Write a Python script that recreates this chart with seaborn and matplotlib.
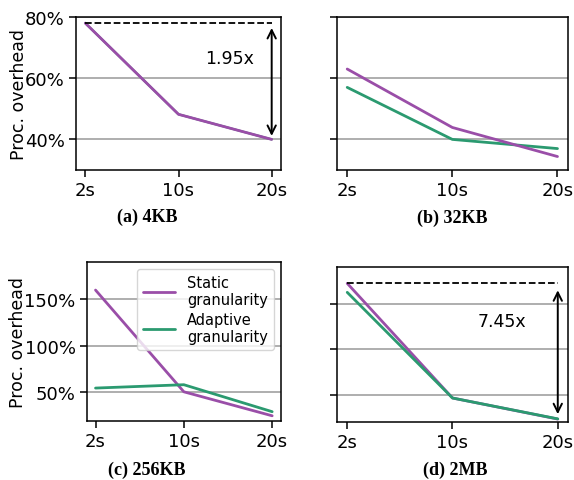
import matplotlib
matplotlib.use("Agg")
import matplotlib.pyplot as plt
import seaborn as sns
import pandas as pd

sns.set_style("ticks")
plt.rcParams['font.family'] = ['DejaVu Sans']
plt.rcParams['text.color'] = 'black'
plt.rcParams['axes.labelcolor'] = 'black'
plt.rcParams['xtick.color'] = 'black'
plt.rcParams['ytick.color'] = 'black'

intervals = ["2s", "10s", "20s"]
series_names = ["Static\ngranularity", "Adaptive\ngranularity"]
colors = ["#9a4ea8", "#2b9a70"]

static_4kb = [78.0, 48.2, 40.0]
adaptive_4kb = [78.0, 48.2, 40.0]
static_32kb = [63.0, 43.9, 34.4]
adaptive_32kb = [57.0, 40.0, 37.0]
static_256kb = [159.6, 50.6, 24.9]
adaptive_256kb = [54.6, 58.2, 29.3]
static_2mb = [172.8, 46.4, 23.2]
adaptive_2mb = [162.9, 46.4, 23.4]

captions = ["(a) 4KB", "(b) 32KB", "(c) 256KB", "(d) 2MB"]
ratio_labels = ["1.95x", None, None, "7.45x"]
yticks_small = [40, 60, 80]
yticks_big = [50, 100, 150]

fig = plt.figure(figsize=(5.74, 4.81), dpi=100)

def px_axes(l, r, t, b):
    W, H = 574.0, 481.0
    return fig.add_axes([l / W, (H - b) / H, (r - l) / W, (b - t) / H])

axes = [
    px_axes(76, 281, 18, 171),
    px_axes(336.7, 568, 18, 171),
    px_axes(86.7, 281, 262.7, 422.3),
    px_axes(336.7, 568.3, 268.3, 422.5),
]
data = [
    (static_4kb, adaptive_4kb),
    (static_32kb, adaptive_32kb),
    (static_256kb, adaptive_256kb),
    (static_2mb, adaptive_2mb),
]
ylims = [(30, 80), (30, 80), (19, 190), (20.5, 190.5)]
yticks = [yticks_small, yticks_small, yticks_big, yticks_big]
show_ylabels = [True, False, True, False]
# draw order: in (a) static on top, in (d) adaptive on top
orders = [[1, 0], [1, 0], [0, 1], [0, 1]]
ratio_text_pos = [(1.55, 66.5), None, None, (1.47, 131.0)]
shrinks = [(3.5, 2.5), None, None, (5, 3.5)]

for i, ax in enumerate(axes):
    st, ad = data[i]
    df = pd.DataFrame({
        "interval": intervals * 2,
        "value": st + ad,
        "series": [series_names[0]] * 3 + [series_names[1]] * 3,
    })
    for k in orders[i]:
        sub = df[df["series"] == series_names[k]]
        lw = 2 if not (i == 0 and k == 1) else 1.6
        sns.lineplot(data=sub, x="interval", y="value", color=colors[k], lw=lw,
                     ax=ax, sort=False, label=series_names[k], zorder=3 + (orders[i].index(k)))
    ax.set_xlim(-0.1, 2.1)
    ax.set_ylim(*ylims[i])
    ax.set_yticks(yticks[i])
    if show_ylabels[i]:
        ax.set_yticklabels([f"{v}%" for v in yticks[i]])
        ax.set_ylabel("Proc. overhead", fontsize=12.5, labelpad=-2)
    else:
        ax.set_yticklabels([])
        ax.set_ylabel("")
    ax.set_xlabel("")
    ax.yaxis.grid(True, color="#999999", lw=1.1)
    ax.set_axisbelow(True)
    ax.tick_params(axis="both", labelsize=13, length=5, width=1.1, pad=3.0, color="black")
    for s in ax.spines.values():
        s.set_visible(True)
        s.set_color("black")
        s.set_linewidth(1.1)
    if i == 2:
        h, l = ax.get_legend_handles_labels()
        order_idx = [l.index(series_names[0]), l.index(series_names[1])]
        ax.legend([h[j] for j in order_idx], [l[j] for j in order_idx],
                  loc="upper right", fontsize=10.5, frameon=True,
                  handlelength=2.2, borderpad=0.4, labelspacing=0.3,
                  handletextpad=0.8, borderaxespad=0.5)
    else:
        leg = ax.get_legend()
        if leg is not None:
            leg.remove()

    if ratio_labels[i] is not None:
        top = st[0]
        low = min(st)
        ax.plot([0, 2], [top, top], ls="--", color="black", lw=1.3, zorder=6)
        sa, sb = shrinks[i]
        ax.annotate("", xy=(2, low), xytext=(2, top),
                    arrowprops=dict(arrowstyle="<->", color="black", lw=1.4,
                                    shrinkA=sa, shrinkB=sb, mutation_scale=15),
                    zorder=7)
        tx, ty = ratio_text_pos[i]
        ax.text(tx, ty, ratio_labels[i], fontsize=12.5, ha="center", va="center")

caption_pos = [(147, 217), (452, 218), (147, 470), (455, 470)]
for (x, y), c in zip(caption_pos, captions):
    fig.text(x / 574, 1 - y / 481, c, ha="center", va="center",
             fontsize=13, fontweight="bold", family=["Liberation Serif", "DejaVu Serif"])

fig.savefig("out.png", dpi=100)
